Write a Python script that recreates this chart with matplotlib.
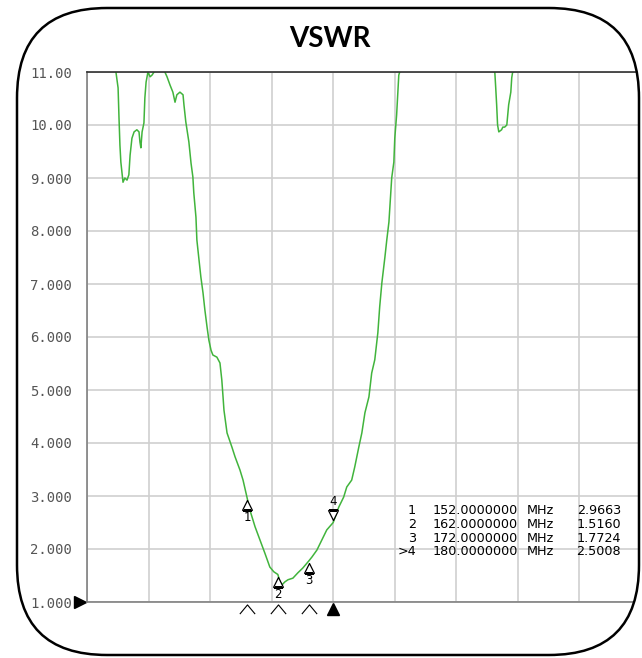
import matplotlib
matplotlib.use("Agg")
import matplotlib.pyplot as plt
from matplotlib.patches import FancyBboxPatch
from matplotlib.path import Path
from matplotlib.transforms import IdentityTransform, ScaledTranslation, blended_transform_factory

# trace (MHz, VSWR); values above 11 are off-screen
freq_mhz = [100, 109.4, 110.1, 110.4, 110.7, 111.0, 111.7, 112.3, 113.0, 113.6,
            114.0, 114.6, 115.3, 116.2, 116.9, 117.2, 117.5, 117.9, 118.5, 118.8,
            119.2, 119.8, 120.5, 121.1, 121.8, 123.5, 125.3, 126.0, 127.0, 127.9,
            128.6, 129.2, 130.2, 131.2, 131.5, 132.1, 133.1, 133.8, 134.4, 134.7,
            135.4, 135.7, 136.4, 137.0, 137.7, 138.3, 139.0, 139.6, 140.3, 140.9,
            142.2, 143.2, 143.8, 144.2, 144.5, 145.5, 147.1, 148.1, 149.7, 150.7,
            152.0, 152.9, 154.6, 156.2, 157.8, 159.4, 160.7, 162.0, 162.7, 163.3,
            164.3, 165.3, 166.9, 168.5, 170.1, 172.0, 173.1, 174.7, 176.3, 177.9,
            180.0, 181.8, 183.4, 184.4, 186.0, 187.0, 188.3, 189.3, 190.3, 191.6,
            192.5, 193.5, 194.5, 195.1, 195.8, 196.8, 197.4, 198.1, 199.0, 199.7,
            200.0, 200.6, 201.0, 201.3, 201.6, 215.0, 232.5, 232.8, 233.1, 233.4,
            233.8, 234.7, 235.1, 235.7, 236.4, 237.0, 237.7, 238.0, 238.3, 260.0,
            280.0]
vswr = [11.5, 11.0, 10.70, 10.13, 9.62, 9.30, 8.92, 9.00, 8.96, 9.06,
        9.43, 9.75, 9.87, 9.91, 9.87, 9.68, 9.57, 9.87, 10.04, 10.51,
        10.81, 11.0, 10.91, 10.94, 11.0, 11.2, 11.0, 10.91, 10.75, 10.62,
        10.43, 10.57, 10.62, 10.57, 10.38, 10.06, 9.68, 9.28, 9.02, 8.72,
        8.26, 7.83, 7.45, 7.13, 6.83, 6.51, 6.19, 5.94, 5.75, 5.66,
        5.62, 5.51, 5.19, 4.87, 4.62, 4.19, 3.92, 3.74, 3.49, 3.30,
        2.97, 2.74, 2.42, 2.17, 1.92, 1.66, 1.57, 1.52, 1.38, 1.32,
        1.38, 1.42, 1.45, 1.55, 1.64, 1.77, 1.85, 1.98, 2.17, 2.36,
        2.50, 2.79, 2.98, 3.17, 3.30, 3.55, 3.92, 4.19, 4.57, 4.87,
        5.32, 5.57, 6.08, 6.57, 7.02, 7.51, 7.83, 8.17, 9.00, 9.30,
        9.75, 10.19, 10.62, 10.94, 11.0, 11.5, 11.0, 10.70, 10.38, 10.0,
        9.87, 9.91, 9.96, 9.96, 10.0, 10.38, 10.62, 10.89, 11.0, 11.5,
        11.5]

marker_ids = ["1", "2", "3", "4"]
marker_labels = ["1", "2", "3", ">4"]
marker_freq = [152.0, 162.0, 172.0, 180.0]
marker_vswr = [2.9663, 1.5160, 1.7724, 2.5008]
active_marker = 3

y_ticks = [1, 2, 3, 4, 5, 6, 7, 8, 9, 10, 11]
y_tick_labels = ["1.000", "2.000", "3.000", "4.000", "5.000", "6.000",
                 "7.000", "8.000", "9.000", "10.00", "11.00"]
x_grid = [100, 120, 140, 160, 180, 200, 220, 240, 260, 280]

W, H = 642, 658
fig = plt.figure(figsize=(W / 100, H / 100), dpi=100)
fig.patch.set_facecolor("white")

# axes box in pixels (left, top, right, bottom)
L, T, R, B = 87, 72, 641, 602
ax = fig.add_axes([L / W, 1 - B / H, (R - L) / W, (B - T) / H])
ax.set_xlim(100, 280)
ax.set_ylim(1, 11)
ax.set_xticks(x_grid)
ax.set_yticks(y_ticks)
ax.set_yticklabels(y_tick_labels, family="DejaVu Sans Mono", fontsize=10, color="#555555")
ax.tick_params(axis="y", length=0, pad=11)
ax.tick_params(axis="x", length=0, labelbottom=False)
ax.grid(True, color="#cfcfcf", lw=1.2)
ax.set_axisbelow(True)
ax.spines["right"].set_visible(False)
ax.spines["top"].set_color("#303030")
ax.spines["left"].set_color("#808080")
ax.spines["bottom"].set_color("#808080")
for s in ["top", "left", "bottom"]:
    ax.spines[s].set_linewidth(1.2)

ax.plot(freq_mhz, vswr, color="#41b43c", lw=1.1)

# markers on the trace
for i, (mid, f, v) in enumerate(zip(marker_ids, marker_freq, marker_vswr)):
    if i == active_marker:
        ax.plot(f, v, marker="v", ms=6.5, mfc="white", mec="black", mew=0.9,
                transform=ax.transData + ScaledTranslation(0, 7 / 100, fig.dpi_scale_trans))
        ax.annotate(mid, (f, v), xytext=(0, 15), textcoords="offset points",
                    ha="center", va="center", fontsize=8.5)
    else:
        ax.plot(f, v, marker="^", ms=6.5, mfc="white", mec="black", mew=0.9,
                transform=ax.transData + ScaledTranslation(0, -7 / 100, fig.dpi_scale_trans))
        ax.annotate(mid, (f, v), xytext=(0, -14), textcoords="offset points",
                    ha="center", va="center", fontsize=8.5)

# marker flags under the frequency axis
chevron = Path([(-1, -0.6), (0, 0.6), (1, -0.6)], [Path.MOVETO, Path.LINETO, Path.LINETO])
flag_tr = blended_transform_factory(ax.transData, ax.transAxes)
for i, f in enumerate(marker_freq):
    if i == active_marker:
        ax.plot(f, -0.013, marker="^", ms=9, color="black", transform=flag_tr, clip_on=False)
    else:
        ax.plot(f, -0.013, marker=chevron, ms=11, mfc="none", mec="black", mew=0.8,
                transform=flag_tr, clip_on=False)

# reference level arrow
ax.plot(-0.012, 0, marker=">", ms=9, color="black", transform=ax.transAxes, clip_on=False)

# marker table
row_y0, row_dy = 511, 13.5
for i, (lab, f, v) in enumerate(zip(marker_labels, marker_freq, marker_vswr)):
    yy = 1 - (row_y0 + i * row_dy) / H
    fig.text(416 / W, yy, lab, ha="right", va="center", fontsize=9.2)
    fig.text(433 / W, yy, f"{f:.7f}", ha="left", va="center", fontsize=9.2)
    fig.text(527 / W, yy, "MHz", ha="left", va="center", fontsize=9.2)
    fig.text(621 / W, yy, f"{v:.4f}", ha="right", va="center", fontsize=9.2)

fig.text(330 / W, 1 - 39 / H, "VSWR", ha="center", va="center",
         fontsize=20, fontweight="bold", family="Lato")

# rounded frame, everything in the plot is clipped to it
frame = FancyBboxPatch((17, H - 655), 622, 647, boxstyle="round,pad=0,rounding_size=90",
                       transform=IdentityTransform(), fc="none", ec="black", lw=1.8)
fig.add_artist(frame)
for art in ax.lines + ax.get_xgridlines() + ax.get_ygridlines():
    if art.get_clip_on():
        art.set_clip_path(frame)
for s in ax.spines.values():
    s.set_clip_path(frame)

fig.savefig("out.png", dpi=100)
